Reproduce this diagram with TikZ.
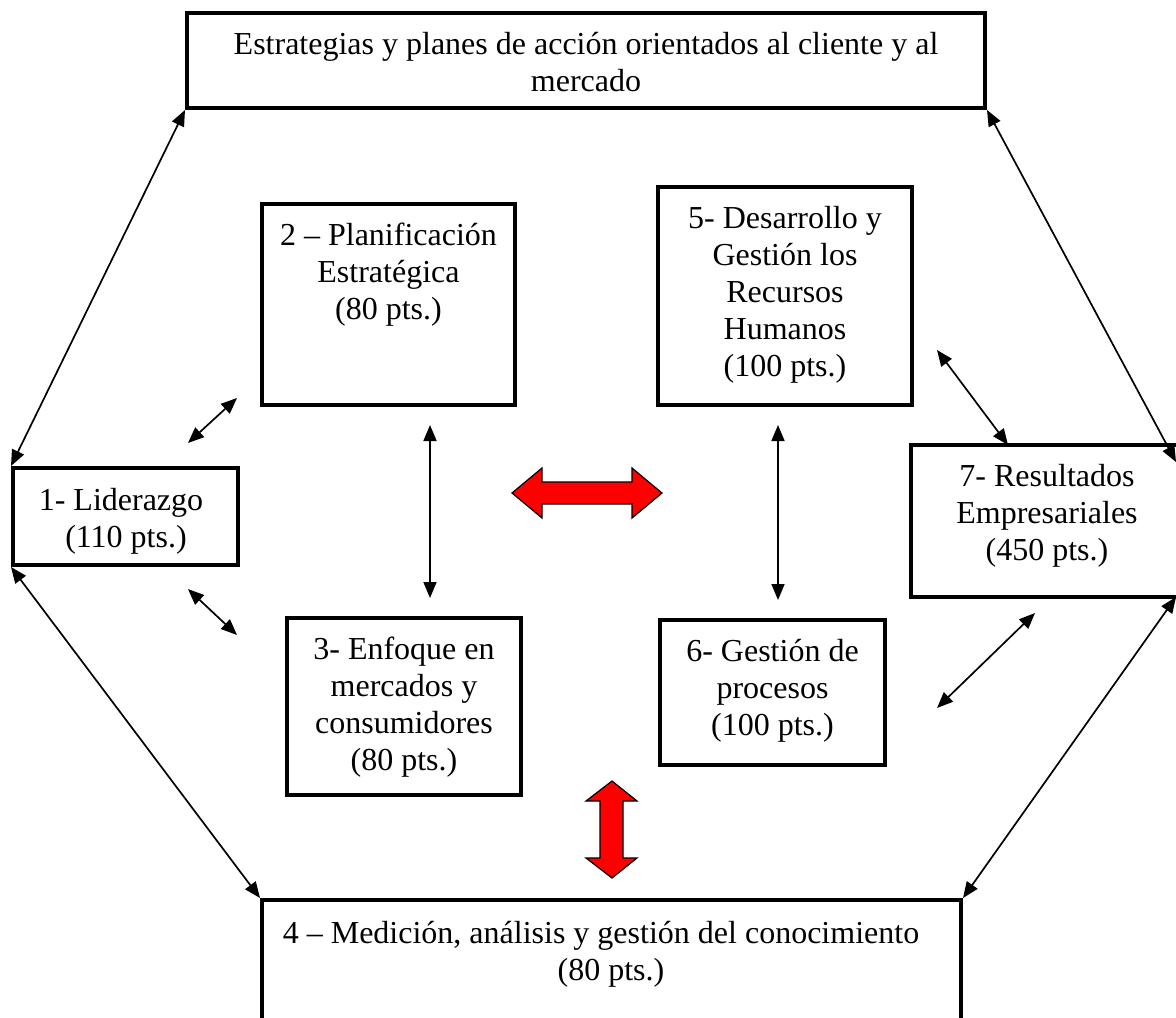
\documentclass[tikz,border=0pt]{standalone}
\usepackage{fontspec}
\setmainfont{Liberation Serif}
\usetikzlibrary{arrows.meta,fit}
\begin{document}
\begin{tikzpicture}[x=0.5pt,y=-0.5pt,
  box/.style={draw=black,line width=2pt,fill=white,inner sep=0pt},
  txt/.style={anchor=north,inner sep=0pt,align=center,
    font=\fontsize{16pt}{18.5pt}\selectfont},
  link/.style={line width=0.85pt,{Triangle[length=8pt,width=6.5pt]}-{Triangle[length=8pt,width=6.5pt]}},
  bigarrow/.style={draw=black,line width=0.6pt,fill=red,line join=miter}]
\useasboundingbox (0,0) rectangle (1176,1017);

% boxes, given by their corners
\node[box,fit={(187,13) (985,108)}] (top) {};
\node[box,fit={(13,468) (238,565)}] (b1) {};
\node[box,fit={(262,204) (515,405)}] (b2) {};
\node[box,fit={(658,187) (912,405)}] (b5) {};
\node[box,fit={(911,445) (1183,597)}] (b7) {};
\node[box,fit={(287,618) (521,795)}] (b3) {};
\node[box,fit={(660,620) (885,765)}] (b6) {};
\node[box,fit={(262,900) (961,1030)}] (b4) {};

% texts
\node[txt] (ttop) at (586,28) {\strut Estrategias y planes de acción orientados al cliente y al\\mercado};
\node[txt] (t1) at (121,484) {\strut 1- Liderazgo\\\hspace*{5pt}(110 pts.)};
\node[txt] (t2) at (388.5,219) {\strut 2 – Planificación\\Estratégica\\(80 pts.)};
\node[txt] (t5) at (785,202) {\strut 5- Desarrollo y\\Gestión los\\Recursos\\Humanos\\(100 pts.)};
\node[txt] (t7) at (1047,460) {\strut 7- Resultados\\Empresariales\\(450 pts.)};
\node[txt] (t3) at (404,633) {\strut 3- Enfoque en\\mercados y\\consumidores\\(80 pts.)};
\node[txt] (t6) at (772.5,635) {\strut 6- Gestión de\\procesos\\(100 pts.)};
\node[txt] (t4) at (611,917) {\strut 4 – Medición, análisis y gestión del conocimiento\hspace*{10pt}\\(80 pts.)};

% free ends of the short connectors
\coordinate (a12s) at (188,443); \coordinate (a12e) at (237,398);
\coordinate (a13s) at (188,589); \coordinate (a13e) at (237,635);
\coordinate (a57s) at (937,350); \coordinate (a57e) at (1008,445);
\coordinate (a67s) at (937,708); \coordinate (a67e) at (1035,613);
\coordinate (a23s) at (430,425); \coordinate (a23e) at (430,598);
\coordinate (a56s) at (778,425); \coordinate (a56e) at (778,600);
\coordinate (r7) at (1176,462); \coordinate (r7b) at (1176,597);

% connectors
\draw[link] (top.south west) -- (b1.north west);
\draw[link] (b1.south west) -- (b4.north west);
\draw[link] (top.south east) -- (r7);
\draw[link] (r7b) -- (b4.north east);
\draw[link] (a12s) -- (a12e);
\draw[link] (a13s) -- (a13e);
\draw[link] (a57s) -- (a57e);
\draw[link] (a67s) -- (a67e);
\draw[link] (a23s) -- (a23e);
\draw[link] (a56s) -- (a56e);

% red double arrows
\draw[bigarrow] (512,493) -- (542,468) -- (542,482) -- (632,482) -- (632,468) -- (662,493)
  -- (632,518) -- (632,504) -- (542,504) -- (542,518) -- cycle;
\draw[bigarrow] (612,781) -- (637,801) -- (623,801) -- (623,858) -- (637,858) -- (612,878)
  -- (586,858) -- (600,858) -- (600,801) -- (586,801) -- cycle;
\end{tikzpicture}
\end{document}
